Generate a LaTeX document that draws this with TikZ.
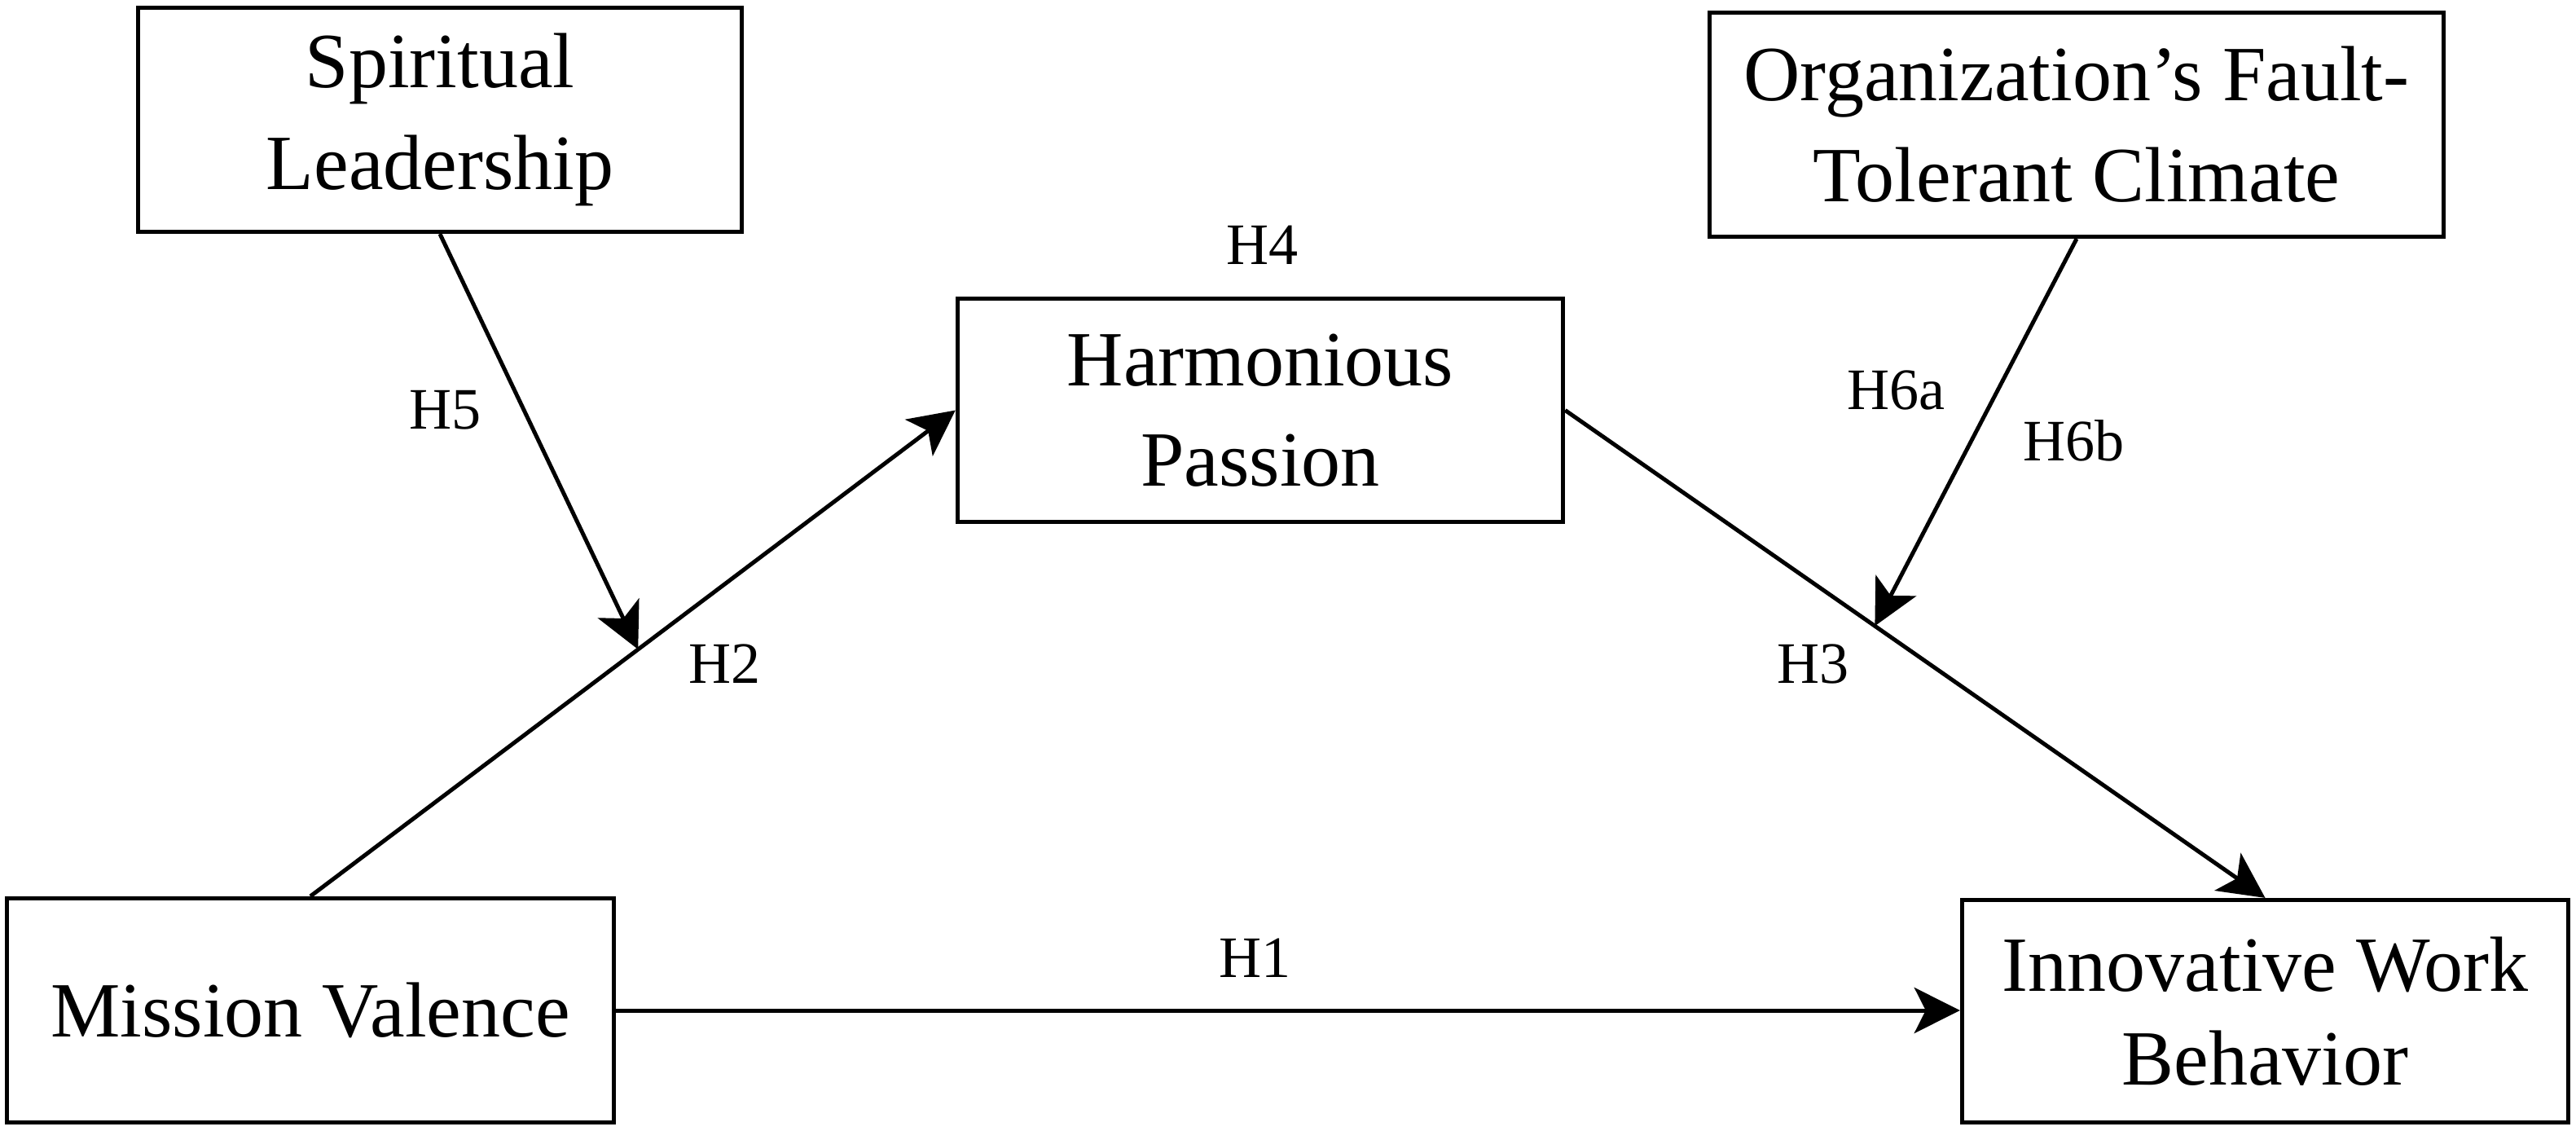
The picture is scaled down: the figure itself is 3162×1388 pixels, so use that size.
\documentclass[tikz,border=0pt]{standalone}
\usepackage{fontspec}
\setmainfont{Liberation Serif}
\usetikzlibrary{arrows.meta}
\begin{document}
\begin{tikzpicture}[x=0.01cm,y=-0.01cm,
  box/.style={draw, line width=1.42pt, inner sep=0pt, align=center},
  boxfont/.style={font=\fontsize{27.3}{#1}\selectfont},
  hyp/.style={inner sep=0pt, anchor=base west, font=\fontsize{20.5}{24}\selectfont},
  conn/.style={line width=1.42pt, -{Stealth[length=0.56cm,width=0.56cm,inset=0.14cm]}}]
\useasboundingbox (0,0) rectangle (3162,1388);
\node[box, boxfont=35.6pt, minimum width=7.41cm, minimum height=2.75cm] (sl) at (540,147) {Spiritual\\Leadership};
\node[box, boxfont=35.3pt, minimum width=9.01cm, minimum height=2.75cm] (oftc) at (2549,153) {Organization’s Fault-\\Tolerant Climate};
\node[box, boxfont=35pt, minimum width=7.43cm, minimum height=2.74cm] (hp) at (1547,503.5) {Harmonious\\Passion};
\node[box, boxfont=35pt, minimum width=7.45cm, minimum height=2.75cm] (mv) at (381,1240) {Mission Valence};
\node[box, boxfont=32.7pt, minimum width=7.44cm, minimum height=2.73cm] (iwb) at (2780.5,1241) {Innovative Work\\Behavior};

\draw[conn] (mv.east) -- (mv.east -| iwb.west);
\draw[conn] (mv.north) -- (hp.west);
\draw[conn] (hp.east) -- (iwb.north);
\path (mv.north) -- (hp.west) coordinate[pos=0.508] (m2);
\path (hp.east) -- (iwb.north) coordinate[pos=0.4424] (m3);
\draw[conn] (sl.south) -- (m2);
\draw[conn] (oftc.south) -- (m3);

\node[hyp] (h4) at (1505,325) {H4};
\node[hyp] (h5) at (502,526) {H5};
\node[hyp] (h2) at (845,838) {H2};
\node[hyp] (h3) at (2181,838) {H3};
\node[hyp] (h6a) at (2267,502) {H6a};
\node[hyp] (h6b) at (2483,565) {H6b};
\node[hyp] (h1) at (1496,1199) {H1};
\end{tikzpicture}
\end{document}
